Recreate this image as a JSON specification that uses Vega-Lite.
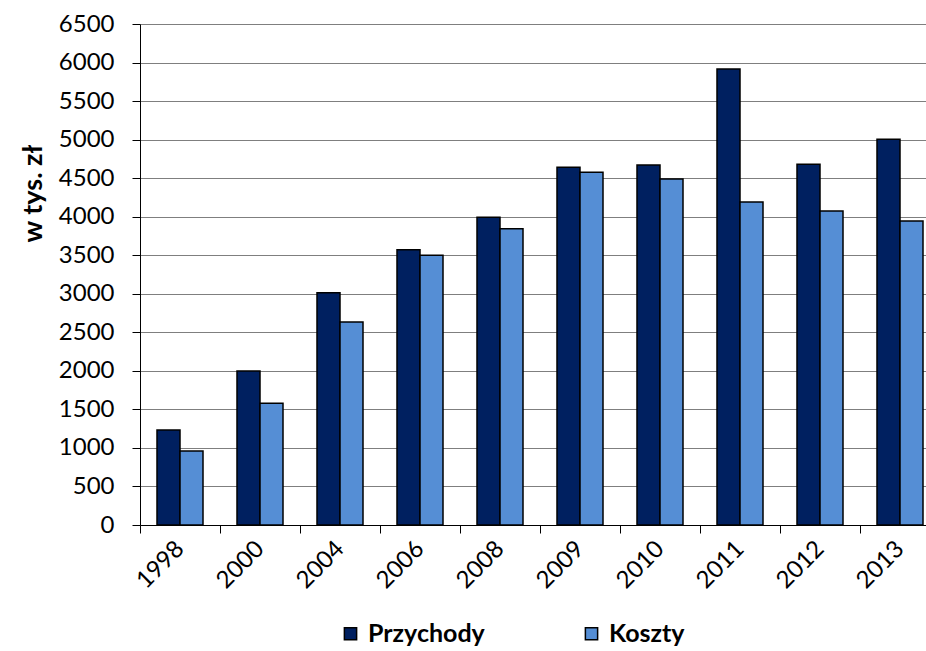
{
  "$schema": "https://vega.github.io/schema/vega-lite/v6.json",
  "autosize": "none",
  "width": 800,
  "height": 501,
  "padding": {"left": 140, "top": 24, "right": 0, "bottom": 126},
  "background": "white",
  "data": {
    "values": [
      {"rok": "1998", "seria": "Przychody", "wartosc": 1232},
      {"rok": "1998", "seria": "Koszty", "wartosc": 960},
      {"rok": "2000", "seria": "Przychody", "wartosc": 1998},
      {"rok": "2000", "seria": "Koszty", "wartosc": 1580},
      {"rok": "2004", "seria": "Przychody", "wartosc": 3014},
      {"rok": "2004", "seria": "Koszty", "wartosc": 2634},
      {"rok": "2006", "seria": "Przychody", "wartosc": 3572},
      {"rok": "2006", "seria": "Koszty", "wartosc": 3499},
      {"rok": "2008", "seria": "Przychody", "wartosc": 3992},
      {"rok": "2008", "seria": "Koszty", "wartosc": 3844},
      {"rok": "2009", "seria": "Przychody", "wartosc": 4641},
      {"rok": "2009", "seria": "Koszty", "wartosc": 4576},
      {"rok": "2010", "seria": "Przychody", "wartosc": 4670},
      {"rok": "2010", "seria": "Koszty", "wartosc": 4489},
      {"rok": "2011", "seria": "Przychody", "wartosc": 5916},
      {"rok": "2011", "seria": "Koszty", "wartosc": 4190},
      {"rok": "2012", "seria": "Przychody", "wartosc": 4680},
      {"rok": "2012", "seria": "Koszty", "wartosc": 4074},
      {"rok": "2013", "seria": "Przychody", "wartosc": 5004},
      {"rok": "2013", "seria": "Koszty", "wartosc": 3944}
    ]
  },
  "mark": {"type": "bar", "stroke": "black", "strokeWidth": 1.5},
  "encoding": {
    "x": {
      "field": "rok",
      "type": "nominal",
      "sort": null,
      "scale": {"paddingInner": 0, "paddingOuter": 0},
      "axis": {
        "title": null,
        "labelAngle": -45,
        "labelAlign": "right",
        "labelBaseline": "middle",
        "labelPadding": 12,
        "labelFont": "Lato",
        "labelFontSize": 24,
        "labelColor": "black",
        "tickBand": "extent",
        "tickSize": 8,
        "tickColor": "black",
        "domainColor": "black",
        "grid": false
      }
    },
    "xOffset": {
      "field": "seria",
      "type": "nominal",
      "sort": ["Przychody", "Koszty"],
      "scale": {"paddingInner": 0, "paddingOuter": 0.739}
    },
    "y": {
      "field": "wartosc",
      "type": "quantitative",
      "scale": {"domain": [0, 6500], "nice": false},
      "axis": {
        "title": "w tys. zł",
        "titleFont": "Lato",
        "titleFontSize": 27,
        "titleFontWeight": "bold",
        "titleColor": "black",
        "titleAngle": -90,
        "titleAlign": "center",
        "titleBaseline": "middle",
        "titleX": -107,
        "titleY": 169,
        "format": "d",
        "values": [0, 500, 1000, 1500, 2000, 2500, 3000, 3500, 4000, 4500, 5000, 5500, 6000, 6500],
        "labelFont": "Lato",
        "labelFontSize": 24,
        "labelColor": "black",
        "labelPadding": 18,
        "tickSize": 8,
        "tickColor": "black",
        "domainColor": "black",
        "gridColor": "#7f7f7f",
        "gridWidth": 1
      }
    },
    "color": {
      "field": "seria",
      "type": "nominal",
      "sort": ["Przychody", "Koszty"],
      "scale": {"domain": ["Przychody", "Koszty"], "range": ["#002060", "#558ED5"]},
      "legend": {
        "title": null,
        "orient": "none",
        "direction": "horizontal",
        "legendX": 198,
        "legendY": 597,
        "symbolType": "square",
        "symbolSize": 150,
        "symbolStrokeColor": "black",
        "symbolStrokeWidth": 1.5,
        "symbolOpacity": 1,
        "labelFont": "Lato",
        "labelFontSize": 25,
        "labelFontWeight": "bold",
        "labelColor": "black",
        "labelOffset": 5,
        "columnPadding": 94
      }
    }
  },
  "config": {"view": {"stroke": null}}
}
